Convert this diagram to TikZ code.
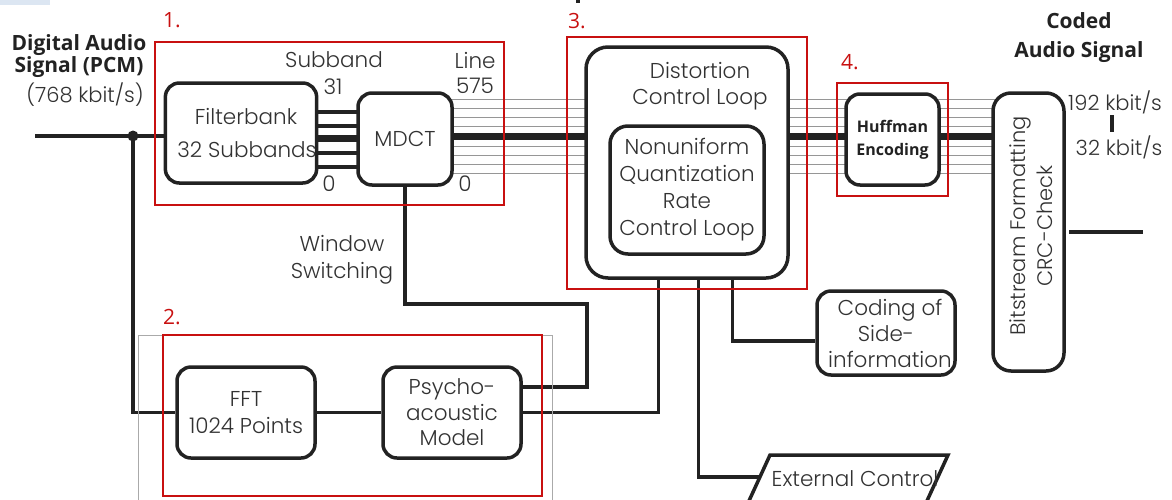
\documentclass[tikz,border=0pt]{standalone}
\usepackage{fontspec}
\setmainfont{Poppins}[UprightFont=* Light, BoldFont=* Medium]
\newfontfamily\hdfont{Open Sans}
\usetikzlibrary{calc,backgrounds}
\definecolor{redbox}{RGB}{200,16,16}
\definecolor{ink}{RGB}{34,34,34}
\definecolor{txt}{RGB}{50,50,50}
\definecolor{bus}{RGB}{150,150,150}
\definecolor{tint}{RGB}{220,230,242}
\definecolor{frameg}{RGB}{170,170,170}
\begin{document}
\begin{tikzpicture}[x=1pt,y=-1pt,
  blk/.style={draw=ink, line width=3.5pt, rounded corners=14pt, fill=white, inner sep=0pt},
  lbl/.style={text=txt, font=\fontsize{21.5}{27}\selectfont, align=center, inner sep=0pt},
  head/.style={text=ink, font=\hdfont\bfseries\fontsize{21}{20}\selectfont, align=center, inner sep=0pt},
  tag/.style={text=redbox, font=\hdfont\fontsize{21}{21}\selectfont, inner sep=0pt},
  conn/.style={draw=ink, line width=3.5pt},
  wire/.style={draw=ink, line width=3.5pt},
  thinbus/.style={draw=bus, line width=1pt},
  thickbus/.style={draw=ink, line width=7pt},
  frame/.style={draw=redbox, line width=2.5pt},
]
\useasboundingbox (0,0) rectangle (1172,499);
\clip (0,0) rectangle (1172,499);

% corner tint and title fragment
\fill[tint] (0,0) rectangle (50,5);
\fill[ink] (576,0) rectangle (580,3);

% processing blocks
\node[blk, lbl, minimum width=148pt, minimum height=100pt] (fb) at (241,133)
  {\hspace*{10pt}Filterbank\\[6pt]\hspace*{12pt}32 Subbands};
\node[blk, lbl, minimum width=94pt, minimum height=92pt] (mdct) at (405,139) {MDCT};
\node[blk, minimum width=202pt, minimum height=231pt, rounded corners=22pt] (dist) at (687,162.5) {};
\node[lbl] (disttxt) at (700,86) {Distortion\\[-1pt]Control Loop};
\node[blk, lbl, minimum width=154pt, minimum height=128pt, rounded corners=18pt] (loop) at (687,190)
  {Nonuniform\\Quantization\\Rate\\Control Loop};
\node[blk, text=ink, font=\hdfont\bfseries\fontsize{16}{23}\selectfont, align=center,
  minimum width=93pt, minimum height=91pt] (huff) at (892.5,139.5) {Huffman\\Encoding};
\node[blk, minimum width=71pt, minimum height=278pt, rounded corners=18pt] (bit) at (1028.5,232) {};
\node[lbl, rotate=90, font=\fontsize{21}{27}\selectfont] (bittxt) at (1031,226)
  {Bitstream Formatting\\CRC-Check};
\node[blk, lbl, minimum width=138pt, minimum height=84pt, font=\fontsize{21.5}{26}\selectfont] (side) at (886,333)
  {\hspace*{8pt}Coding of\\Side-\\\hspace*{8pt}information};
\node[blk, lbl, minimum width=138pt, minimum height=91pt] (fft) at (246,412.5) {FFT\\1024 Points};
\node[blk, lbl, minimum width=138pt, minimum height=91pt, font=\fontsize{21.5}{25.5}\selectfont] (psy) at (452,412.5)
  {Psycho-\\acoustic\\Model};

% subband and spectral-line buses
\begin{scope}[on background layer]
  \foreach \y in {112,126,153,167}
    \draw[wire] (fb.center |- 0,\y) -- (mdct.center |- 0,\y);
  \draw[thickbus] (fb.center |- 0,138) -- (mdct.center |- 0,138);
  \foreach \a/\b in {mdct/dist, dist/huff, huff/bit}{
    \foreach \y in {99,108,117,126,146,155,164,173}
      \draw[thinbus] (\a.center |- 0,\y) -- (\b.center |- 0,\y);
    \draw[thickbus] (\a.center |- 0,136) -- (\b.center |- 0,136);
  }
\end{scope}

% input signal and its branch to the FFT
\coordinate (in) at (35,136);
\coordinate (split) at (133,136);
\draw[conn] (in) -- (in -| fb.west);
\fill[ink] (split) circle (5.5pt);
\draw[conn] (split) |- (fft.west);
\draw[conn] (fft) -- (psy);

% window switching control
\coordinate (ws) at (587,304);
\draw[conn] ($(psy.east)+(0,-25.5)$) -| (ws) -| (mdct.south);
% masking information to the distortion loop
\draw[conn] (psy.east) -| ($(dist.south west)+(74,0)$);

% external control
\coordinate (extA) at (770,455);
\coordinate (extB) at (948,455);
\coordinate (extC) at (926,503);
\coordinate (extD) at (748,503);
\coordinate (extin) at (760,477);
\draw[conn, line join=miter] (extA) -- (extB) -- (extC) -- (extD) -- cycle;
\node[lbl] (ext) at (855,479) {External Control};
\draw[conn] ($(dist.south west)+(114,0)$) |- (extin);

% side information
\draw[conn] ($(dist.south west)+(148,0)$) |- ($(side.west)+(0,8)$);
\draw[conn] ($(side.east)+(0,-3)$) -- ($(side.east)+(0,-3)$ -| bit.west);

% coded output
\coordinate (outA) at (1069,232);
\coordinate (outB) at (1143,232);
\draw[conn] (outA) -- (outB);
\coordinate (barA) at (1112,115);
\coordinate (barB) at (1112,132);
\draw[ink, line width=4pt] (barA) -- (barB);

% labels
\node[head] (src) at (79,56) {Digital Audio\\Signal (PCM)};
\node[lbl, font=\fontsize{21}{25}\selectfont] (rate) at (85,95) {(768 kbit/s)};
\node[head, font=\hdfont\bfseries\fontsize{21}{29}\selectfont] (dst) at (1079,38) {Coded\\Audio Signal};
\node[lbl] (sbA) at (334,60) {Subband};
\node[lbl] (sbB) at (333,87) {31};
\node[lbl] (sbC) at (329,184) {0};
\node[lbl] (lnA) at (475,60) {Line};
\node[lbl] (lnB) at (475,86) {575};
\node[lbl] (lnC) at (465,184) {0};
\node[lbl] (win) at (342,260) {Window\\Switching};
\node[lbl, font=\fontsize{21}{25}\selectfont] (hi) at (1115,102) {192 kbit/s};
\node[lbl, font=\fontsize{21}{25}\selectfont] (lo) at (1119,147) {32 kbit/s};

% grouping frames
\draw[frameg, line width=1pt] (138,335) rectangle (552,520);
\draw[frame] (155,42) rectangle (504,205);
\draw[frame] (163,335) rectangle (542,496);
\draw[frame] (567,37) rectangle (807,289);
\draw[frame] (837,83) rectangle (948,196);
\node[tag] (t1) at (172,20) {1.};
\node[tag] (t2) at (172,317) {2.};
\node[tag] (t3) at (577,21) {3.};
\node[tag] (t4) at (850,62) {4.};
\end{tikzpicture}
\end{document}
